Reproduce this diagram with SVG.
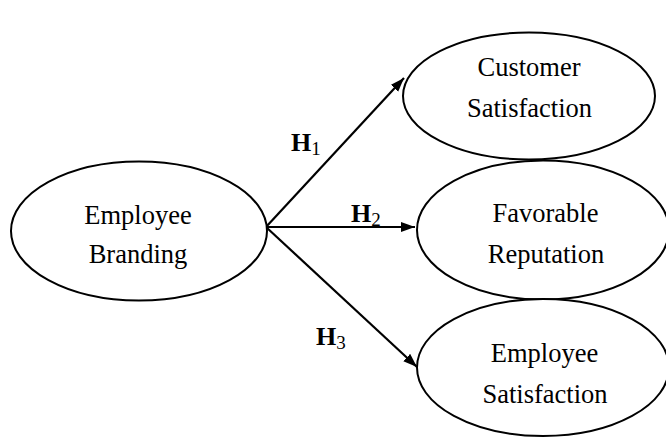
<svg xmlns="http://www.w3.org/2000/svg" width="666" height="438" viewBox="0 0 666 438">
<defs>
<style>
.node{fill:#fff;stroke:#000;stroke-width:2}
.t{font-family:"Liberation Serif","Times New Roman",serif;font-size:26.5px;fill:#000;text-anchor:middle}
.h{font-family:"Liberation Serif","Times New Roman",serif;font-size:26px;font-weight:bold;fill:#000}
.s{font-size:19px;font-weight:normal}
.c{stroke:#000;stroke-width:2.2;fill:none}
</style>
<marker id="ah" markerUnits="userSpaceOnUse" markerWidth="16" markerHeight="12" refX="14" refY="5" orient="auto">
<path d="M0,0 L14,5 L0,10 z" fill="#000"/>
</marker>
</defs>
<rect width="666" height="438" fill="#fff"/>
<g id="connectors">
<line class="c" x1="266" y1="227" x2="404" y2="78" marker-end="url(#ah)"/>
<line class="c" x1="266" y1="227" x2="415" y2="227" marker-end="url(#ah)"/>
<line class="c" x1="266" y1="227" x2="417" y2="367" marker-end="url(#ah)"/>
<text class="h" x="291" y="151">H<tspan class="s" dy="4">1</tspan></text>
<text class="h" x="351" y="222">H<tspan class="s" dy="4">2</tspan></text>
<text class="h" x="316" y="345">H<tspan class="s" dy="4">3</tspan></text>
</g>
<g id="employee-branding">
<ellipse class="node" cx="139" cy="231" rx="128" ry="69.5"/>
<text class="t" x="138" y="224">Employee</text>
<text class="t" x="138" y="263">Branding</text>
</g>
<g id="customer-satisfaction">
<ellipse class="node" cx="529" cy="96" rx="126" ry="63.5"/>
<text class="t" x="529" y="76">Customer</text>
<text class="t" x="529.5" y="117">Satisfaction</text>
</g>
<g id="favorable-reputation">
<ellipse class="node" cx="543" cy="230" rx="126" ry="69.5"/>
<text class="t" x="545.5" y="222">Favorable</text>
<text class="t" x="546" y="263">Reputation</text>
</g>
<g id="employee-satisfaction">
<ellipse class="node" cx="543" cy="367.5" rx="126" ry="68.5"/>
<text class="t" x="544.5" y="362">Employee</text>
<text class="t" x="545" y="403">Satisfaction</text>
</g>
</svg>
